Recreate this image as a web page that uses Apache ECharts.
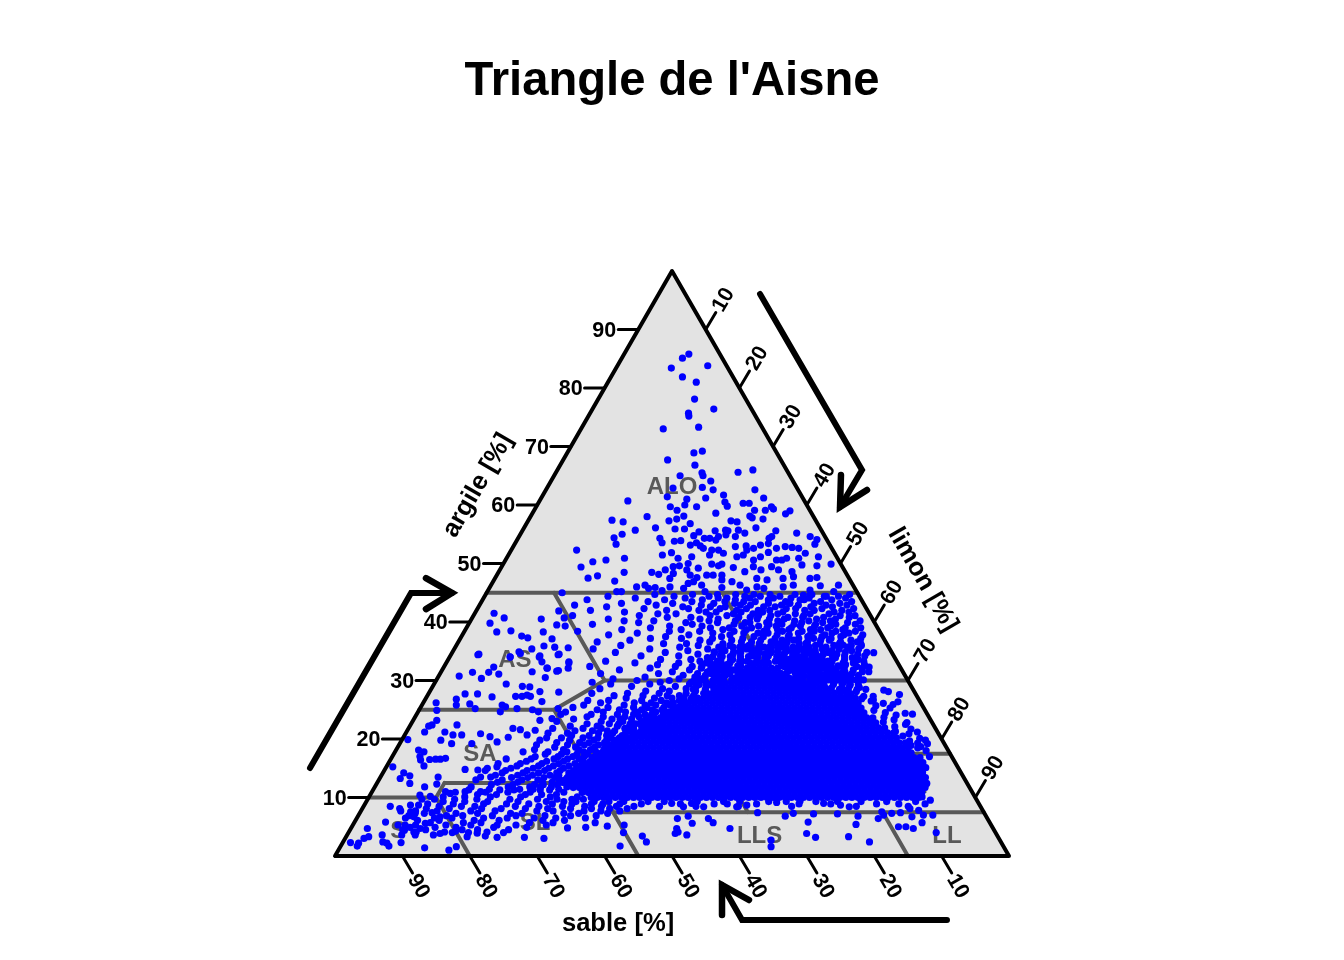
<!DOCTYPE html>
<html><head><meta charset="utf-8">
<style>html,body{margin:0;padding:0;background:#fff}#c{width:1344px;height:960px}</style>
<script src="https://cdn.jsdelivr.net/npm/echarts@6/dist/echarts.min.js"></script>
</head><body><div id="c"></div>
<script>
const FONT='"Liberation Sans",Arial,sans-serif';
const tickValues=[10,20,30,40,50,60,70,80,90];
/* isolated samples, [sand, clay] */
const topPoints=[[4.6,85.8],[5.9,85.1],[8.4,83.4],[2.8,83.8],[7.5,81.9],[5.9,81],[7.6,78.1],[5.6,76.4],[9.7,75.7],[9.9,75.2],[9.4,73.3],[14.8,73],[12.3,68.9],[10.9,69.2],[16.8,67.7],[13.2,66.8],[7.4,65.6],[5,66],[12.8,65.5],[12.9,65],[16.3,65],[12.2,64.1],[14,63],[18.4,62.9],[6.4,62.6],[12.6,62.6],[11.5,61.7],[20,61.4],[14.4,61.2],[17.3,61],[5.8,61.2],[26.2,60.7],[11.9,60.5],[9.3,60.3],[8.4,60.3],[18.1,60],[11.9,59.8],[16.5,59.7],[20.4,59.7],[5.4,59.7],[5.3,59.3],[8.2,59.1],[6.6,59.1],[19.7,59.1],[3,59],[3.9,58.5],[14.2,58.6],[19.2,58.1],[9.4,58.1],[24.7,58],[9.2,57.8],[20.5,57.6],[7.7,57.6],[30.2,57.4],[21.8,57.3],[28.7,57.1],[12.6,57.3],[11.8,57.1],[18.9,56.8],[9.5,56.1],[24.4,56.1],[27.6,55.7],[21.6,55.9],[20.2,55.9],[12.3,55.7],[6.8,55.6],[3.9,55.2],[18.3,55.4],[15.8,55.6],[14.2,55.7],[13.9,55.6],[11.6,55.2],[29.9,55],[31.4,54.4],[31.65,53.3],[38,52.3],[38.8,49.4],[38.7,47.5]];
const upperPoints=[[24.65,54.3],[24.7,53.55],[22.75,53.8],[21.75,53.9],[19.4,54.75],[20.7,53.15],[19.6,53.55],[18.05,54.3],[19.3,53],[17.25,54.3],[16.5,54],[15.8,54.6],[14.55,54.9],[13.3,54.6],[8.45,54.3],[7.9,54.6],[2.2,54.6],[1.45,54.1],[2.15,53.3],[14.15,52.9],[12.5,53],[11.6,52.6],[10.3,53.15],[9,53.4],[8.2,52.6],[6.75,52.9],[5.8,52.75],[4.9,52.6],[4.35,51.75],[2.7,51.15],[1.45,49.9],[3.7,49.6],[5.75,50.9],[5.85,49.75],[7.55,50.9],[8.4,50.6],[9.2,50.6],[10.5,49.45],[9.75,48.9],[9.75,51.9],[11.3,51.15],[12.6,50.6],[13.2,49.45],[12.35,48.9],[14.9,48.6],[16.25,49.3],[14.8,51.15],[13.7,51.45],[12.75,52.3],[16.5,51.75],[16.95,52.3],[17.95,52.3],[19.05,52.6],[18.7,51.45],[17.65,49.9],[18.3,49.6],[19.15,49.9],[21.5,49.2],[21.5,51.15],[22.6,50],[23.65,50.9],[24.1,49.6],[24.15,51.85],[25.7,51.45],[25.1,49.45],[26.55,48.9],[27.9,48.15],[28.75,48.5],[23.35,48.9],[23.3,48],[22.5,47.6],[23.35,46.9],[20.85,48],[19.9,48],[18.6,48],[19,47.2],[17.65,46.9],[16.75,46.3],[16.2,45.45],[14.4,46],[13.7,47.45],[12.3,47.2],[13.5,45.75],[9.8,47.45],[7.9,48.6],[8.1,47.75],[5.8,47.45],[4.7,47.6],[10.5,46],[8.85,46.3],[6.8,45.45],[4.9,46.2],[2.15,46.3],[3.4,45.2],[26.6,47.45],[25.65,48.3],[27.3,46],[25.4,45.75],[24.3,46.6],[32.25,46],[30.85,46.3],[30.6,45.75],[29.55,45.9],[28.8,45.35],[35.6,45.2],[34.9,45.2],[22.45,46.3],[22.5,45.2],[19.65,45.9],[8.2,44.6],[7.2,44.6],[4.9,44.4],[31.6,50.9],[34.5,50.6],[36.6,50.3],[32.85,48.5],[37.1,47.9],[35,47]];
const clayLoamPoints=[[55.65,41.5],[54.55,40.7],[57.1,39.8],[56.85,38.3],[54.65,38.5],[53.5,37.6],[52.75,37.3],[49.15,40.5],[49.95,38.3],[49.25,37.1],[47.35,39.5],[45.65,40.7],[45.85,41.9],[43.8,45],[51.05,35.9],[49.55,35.7],[47.6,35.6],[49.7,34.4],[53.1,35.4],[55.25,34.9],[57,34],[61.6,34.4],[52.7,34],[52.7,33.2],[52.45,32.1],[48.8,33],[49.35,32.1],[51.3,31.6],[61.4,34.5],[57,34.05],[55.2,34.6],[52.5,34.2],[49.5,34.5],[48.7,33.2],[55,31.5],[52.5,32.1],[51,31.7],[60.3,32.3],[61.5,31.4],[60.15,31.1],[63.9,31.4],[66.2,30.75],[63.1,30.35],[59.9,29.4],[57.7,29],[56.65,28.9],[53.55,30.5],[66.85,27.7],[65,27.7],[63.1,27.2],[68.6,26.8],[71.9,26.2],[67,26],[66.6,25.2],[69.1,25.8],[72.45,24.9],[59.55,27.3],[58.6,27.3],[57.75,27.5],[57.35,27.3],[55.55,28.1],[52.8,28],[56.1,26.4],[62.3,25.8],[61.95,25.5],[63.15,24.65],[60.4,25.2],[58.2,25],[57.5,24.65],[58,23.2],[56.05,23.5],[54.3,25.2]];
const sandyPoints=[[73.3,23.2],[74.4,22.4],[75,22.2],[76.1,21.2],[73.1,21.2],[70.7,22.4],[72.15,20.7],[70.85,20.7],[74.4,19.8],[73.1,19.2],[79.25,19.9],[67.95,20.9],[66.8,20.4],[66.2,19.5],[70.1,19.2],[64.15,20.3],[62.7,21.8],[61.7,21.6],[61.15,20.7],[59.55,21.5],[78.55,18.1],[77.9,17.8],[78.9,17],[79.1,16.4],[77.7,16.5],[76.8,16.55],[76.1,16.55],[75.25,16.7],[79.1,15.4],[83.8,15.25],[82.7,14.2],[82.05,13.7],[83.7,13.25],[82.7,12.4],[77.95,13.5],[80.8,11.8],[78.75,12.3],[73.3,14.8],[71.45,14.7],[69.9,15],[68.35,15.25],[71.65,13.5],[70.15,13.5],[72.9,11],[75.2,11],[77.55,10.7],[78.1,11],[82.2,10.4],[80.75,10.2],[82.25,9.7],[83.25,8.7],[84.45,8.7],[87.55,8.5],[86.35,8.1],[86.4,7.7],[85,7.55],[84.45,7.3],[84.95,6.7],[81.9,7.4],[81.05,6.7],[89.6,5.8],[86.95,5.3],[92.85,4.7],[94.2,3],[93.35,3.3],[96.55,2.3],[95.4,2.2],[95.85,1.7],[91.2,3.6],[91.2,2.2],[91.15,1.7],[91.7,2.4],[88.3,3.6],[87.5,4.4],[89.05,2.3],[86,1.4],[82.6,1],[81.2,1.6],[76,3.4],[74.35,3.2],[70.3,3.2],[67.5,3],[73,4],[76.95,3.9],[78.75,3.3],[78.2,4],[80.6,4],[80,4.25],[83.6,3.6],[82.5,3.85],[83.8,5.6],[86.25,4.1],[86.3,3.6],[85,4.7],[60.35,4.9],[58.55,5.7],[57.05,5.1],[54.45,5.3],[55.2,4],[56.85,1.7],[52.7,3.4],[52.6,2.4],[63.1,4.8]];
const siltyBottomPoints=[[46,6.4],[44.2,6.8],[44.2,5.6],[46.95,4.7],[47.05,4.1],[46,3.6],[47.6,3.85],[41.4,6.4],[41.05,5.7],[39.05,4.7],[33.95,2.7],[34.5,1.6],[33.6,7.4],[29.8,6.8],[28.35,7.3],[26.9,5.8],[25.4,7.2],[28.1,3.85],[27.1,3.2],[21.85,7.2],[20,5.4],[19,6.8],[22.15,3.3],[19.5,2.4],[16.2,6.4],[15.1,7.55],[15.1,7],[13.9,5],[12.8,5],[11.85,4.7],[10.05,5.7],[8.8,4],[7.8,7],[9.2,7],[13.75,7.3],[12.4,7.4],[10.65,8.1],[11.05,6.7],[9.5,7.8],[6.9,9.55],[7.85,10.1],[6,12.4],[41.1,8.4],[37.35,8.9],[36.2,8.4],[34.55,8.7],[29.9,9.15],[26.3,9.4],[23,9],[20.65,8.7],[19.5,8.4],[44.1,8.4],[45.55,9],[42.6,9]];
const rightEdgePoints=[[4.4,28.35],[3.85,28.1],[2.45,27.6],[3.3,26.35],[4.25,25.9],[6.8,26.65],[3.2,24.4],[2.2,24.25],[3.75,22.8],[3,21.2],[2.5,19.8],[2.5,19.2],[3.75,18.7],[3.3,18],[3.3,17],[5.7,14.4],[5.05,31.5],[6.55,30.1],[2.7,34.75],[4.6,32.3],[3.85,36.3],[6.6,36.05],[7.8,28.8],[8.6,28.1],[9.6,27.7],[9.1,29.1],[10.3,28.4],[6.5,27.3],[7.9,27.3],[8.4,26.9],[7.2,26.5],[5.6,26.1],[6.9,25.7],[5,25.3],[7.6,24.9],[6.1,24.5],[4.7,24.1],[6.7,23.7],[5.4,23.3],[7.2,22.9],[4.1,22.5],[5.9,22.1],[3.7,21.7],[6.2,21.3],[4.4,20.9],[5.5,20.5],[3.2,20.1],[4.9,19.7],[3.9,19.3],[5.1,18.9],[4.3,18.5]];
/* [clay, sands at that clay] : the medium-density cloud and the tail */
const cloudRows=[
[44.7,[1.3,6.9,9.4,13.1,15.5,18.2,20.9,24.6,30.2]],[44.4,[3.1,5.2,11.8,14.7,17,22.3,27.5,37.3]],[44.1,[2.2,7.6,10.3,12.9,16.4,19.8,21.1,26,33.4]],[43.8,[4.4,8.5,9.1,13.8,18.7,23.6,29.2,40.7]],[43.5,[1.6,6.2,11.4,15.9,17.6,20.4,25.3,31.8]],[43.2,[3.5,7.3,10.9,14.1,19.1,22.2,28.3,35.9]],[42.9,[2.6,5.7,9.8,12.3,16.9,18.4,24.2,30.9,43]],[42.6,[4.9,8.1,13.4,15.1,20.8,23,27.1,38.4]],[42.3,[1.9,6.6,10.5,11.9,17.8,21.7,26.4,33]],[42,[3.8,7.9,9.3,14.5,16.2,19.4,25,29.8,41.1]],[41.7,[2.9,5.1,12.7,15.7,18.9,22.6,24.1,36.2]],[41.4,[6,8.8,11,13.6,17.3,20.2,28.7,31.4]],[41.1,[2.3,4.5,9.9,14.8,16.6,21.3,23.8,34.3,44.2]],[40.8,[3.3,7.1,10.2,12.4,18,19.7,26.8,30.3]],[40.5,[5.5,8.3,13.1,15.3,17.1,22.9,25.6,39.2]],[40.2,[2,6.4,9.6,11.7,14.2,20.5,24.4,32.6,37]],[39.9,[4,7.7,10.8,16,18.5,19.2,23.3,28,35]],[39.6,[3,5.9,8.9,12.1,13.9,15.8,21,27.2,42]],[39.3,[6.8,9.2,11.3,14.9,17.5,20,25.9,30.7,46.2]],[39,[2.5,4.8,7.4,12.8,16.4,18.7,22,24.8,33.7]],
[38.7,[5.3,8.6,10.1,13.3,15,19.6,23.1,29.3,38.1]],[38.4,[3.6,6.5,9.7,11.5,14.4,17.2,21.6,26.7,31.2,44.8]],[38.1,[4.7,7.2,12.2,16.7,18.2,20.3,24.9,36.1]],[37.8,[2.8,5.6,8.4,10.6,13.7,15.5,22.5,28.6,40.5]],[37.5,[6.2,9,11.1,14,17.7,19.1,23.9,32.2]],[37.2,[3.4,7.8,10.4,12.6,16.1,20.9,25.4,30,34.6]],[36.9,[5,8.2,9.5,13.5,15.2,18.4,22.7,27.4,37.8]],[36.6,[4.2,6.7,11.6,14.6,17,19.9,21.4,26.1,42.8]],[36.3,[7,9.9,12,13,16.3,18.9,24.3,29.7,33.1]],[36,[3.9,5.4,8,10.7,15.6,20.6,23.4,28.1,39.6]],[35.7,[6.1,9.3,11.8,14.2,17.4,19.3,22.1,25.2,31]],[35.4,[4.6,7.5,10,12.9,16.6,18.1,21.2,27,35.6,44]],[35.1,[5.8,8.7,11.2,13.8,15.4,20.1,24.6,30.1]],[34.8,[3.7,6.9,9.4,12.5,14.7,17.9,22.4,26.3,33.6,41]],[34.5,[5.2,8.3,10.3,11.4,16.2,19,23.7,28.9]],[34.2,[4.3,7.3,9.1,13.2,15,18.6,21,25.7,31.9,37.5]],[33.9,[6.3,8.8,12.3,14.3,16.9,20.4,22.9,27.8]],[33.6,[5.6,7.6,10.9,11.9,15.8,17.6,19.4,24.2,30.4,34.9]],[33.3,[4.9,9.6,12.8,13.6,16.5,23,26.6,29.2,43.2]],[33,[6.6,8.1,10.5,14.8,17.3,24.9,28.4,32.5,39]],[32.7,[5.1,7.9,11,12.4,15.3,16.4,25.5,27.3,35.8]],[32.4,[6.4,9.2,10.2,13.9,17.1,23.6,26.2,30.8,33.3,46]],[32.1,[5.7,8.4,11.7,13.1,15.7,24.1,28,29.6,37.2]],[31.8,[7.2,9.8,12.2,14.5,16.8,25.1,27.6,31.5,41.9]],[31.5,[6,8.6,10.8,13.4,15.1,23.8,26.5,29,34.2]],[31.2,[7.7,9.4,11.5,12.7,16.1,25.8,28.6,30.6,36.4,45]],[30.9,[6.9,8.9,10.1,14,15.9,26.9,28.2,32.9]],[30.6,[8.2,10.6,12.1,13.3,15.2,27.7,29.8,31.3,38.7]],[30.3,[7.1,9,11.3,14.4,27.2,30.5,33.8,43.6]],[30,[8.5,10,12.6,13.7,28.5,31.7,35.4,40.2]],
[29.7,[9.7,11.1,12.9,28.9,30.1,32.3,36.9,47]],
[29.4,[29.8,32.7,38.6,44.4]],[29,[31.9,30.4,35,41.5]],[28.6,[33.6,29.5,37.1,46.4]],[28.2,[30.9,36.3,32.4,39.8]],[27.8,[34,31.4,38,42.7,48]],[27.4,[35.2,33.1,40.6,37,44.9]],[27,[32.8,36.5,34.7,39.1,43.3]],[26.6,[38.3,35.6,41.2,33.9,46.1,49.2]],[26.2,[36.7,40,34.9,42.5,37.7,47.5]],[25.8,[39.5,37.4,35.3,44.2,41.1,50.2]],[25.4,[36.4,41,38.5,43,46.8,52]],[25,[40.4,37.1,39,42,45.3,48.6]],[24.6,[38.2,42.8,40.1,44.6,47.9,53.5]],[24.2,[41.9,39.2,43.6,46,40.9,49.9,54.4]],[23.8,[41.4,38.9,45.1,43,48.3,50.7]],[23.4,[44.3,40.6,42.2,47.2,46,52.9]],[23,[39.9,43.1,45.8,41.5,49,55.6]],[22.6,[44.1,42.3,46.6,48,51.3,44.9]],[22.2,[41.7,47,45.2,43.4,50,54]],[21.8,[46.1,44.8,43,49.6,52.3,56.8]],[21.4,[45.7,47.8,43.8,48.9,51.1,53.7]],[21,[46.4,44.4,50.4,48.3,55,57.9]],[20.6,[47.1,45.5,49.4,52,46.8,54.6]],[20.2,[50.9,47.7,45.9,53.1,49,56.3,58.5]],[19.8,[48.4,46.7,51.7,49.8,55.3,59.7]],[19.4,[47.3,50.3,48.9,52.6,54,57.4]],[19,[51.4,49.6,47.9,53.5,56,60.6]],[18.6,[49,52.2,50.6,55,58.1]],[18.2,[48.5,53,51,54.7,57,61.3]],[17.8,[52.4,50.1,54.2,56.7,59.5,63.2]],[17.4,[51.6,53.8,55.4,57.7,60.1]],[17,[52.9,54.5,50.8,56.2,58.4,61.8]],[16.6,[55.5,53.3,57.2,59.2,62.6,66.3]],[16.2,[54,58,55.2,60.5,63.5]],[15.8,[56.5,55,58.9,61.4,64.6,67.9]],[15.4,[57.6,55.9,59.9,62.1,65.3]],[15,[56.6,58.6,60.8,63.1,66.4]],[14.6,[59.3,57.3,61.6,64.2,67.4,70.4]],[14.2,[58.2,60,62.7,65,68.1]],[13.8,[59.9,61.2,57.9,63.8,66,69.3]],[13.4,[60.7,58.8,62.3,64.7,67.1]],[13,[60.2,63.4,59.4,65.8,68.7,72.6]],[12.6,[61.5,62.9,60,66.6,69.6]],[12.2,[60.9,64.3,67.5,63,70.7]],[11.8,[62,59.7,63.6,65.2,68.4,73.9]],[11.4,[61.1,64.9,66.9,71.4]],[11.3,[62.5,63.9,67.8,69.9,74.5]],[10.9,[60.6,65.6,68.9,72.2,76.7]],[10.5,[61.9,64.1,66.5,70.8,73.6]],[10.1,[59,63,67.4,71.9,75.7,78.9]],[9.7,[58.3,60,62.2,65.1,69.2,74.1,77.4,80.4]],
[9.3,[9.2,13.5,17.3,20.8,24,28.4,31,35.3,37.7,41.6,46.5,48.9,52.5,54.7,56.9,59.6,61.4,64,68.2,72.7,76.1,79.3]],[8.9,[8,11.9,15.2,22,26.7,33,39.3,44.3,50.1,53.3,55.8,57.5,60.4,63.3,66.8,70.1,73.5,78,81.8]],[8.5,[10.7,18.4,28,35.9,42.2,47.6,51.4,54,56.2,58.7,62,65.5,69,75,77,80.3]],[8.1,[52.6,55.2,57.9,61,64.4,67.7,71.3,74.2,79,82.4]],[7.7,[53.9,56.7,59.2,63.8,66.2,72.4,76,81,84.2]],[7.3,[55.9,60.2,62.4,68.6,70.3,75.2,78.4,83.1]],[6.9,[57.8,61.6,65.4,69.7,73.2,77.6,80,85.6]],[6.5,[59.6,64,67.2,71.2,74.7,79.4,82,86.3]],[6.1,[62.9,66.1,72.6,76.3,81.5,84.7]],[5.7,[64.8,68.3,75.5,78.1,83]],[5.3,[66,70.5,73.3,77.2,80.9,85.4,88]],[4.9,[69.1,74,79.6,82.7,86.4]],[4.5,[72,76.6,78.9,84.3,87.7]],[4.1,[75.4,81.7,85.9]]
];
/* [clay, sands at that clay] : the crowded dome above the core */
const domeRows=[
[35.7,[12.1,13.4,15.2,16,17.7,18.5,20.4,21.3,23.1,24.6]],
[34.9,[11.8,12.9,14.1,15.7,16.9,18.2,19.6,20.7,22.5,23.4,25.2,26.3]],
[34.1,[10.9,12.2,13.7,14.6,16.3,17.4,19,20.2,21.6,22.8,24.3,25.5,26.9]],
[33.3,[10.2,11.5,13,14.2,15.4,16.8,18,19.3,20.8,22.2,23.3,24.7,26.1,27.7]],
[32.5,[9.1,10.4,12,13.2,14.6,15.9,17.3,24,25.4,26.6,28,29.3]],
[31.7,[8.7,9.9,11.2,12.8,14,15.3,16.7,25.9,27.1,28.5]],
[30.9,[8.1,9.5,10.8,12.3,13.6,15,26.6,27.9,29.6]],
[30.1,[7.6,9,10.5,11.7,13.2,14.5,15.8,26.1,27.5,28.8,30.7]],
[29.3,[7.7,8.9,10.1,11.4,12.8,28.2,29.7,31.3]],
[28.5,[7,8.3,9.6,10.9,29.4,30.8,32.6]]
];
/* [clay, sands at that clay] : the saturated core, where single samples cannot be told apart */
const coreRows=[
[10,[8.4,9.3,10.2,11.1,12,12.9,13.8,14.7,15.6,16.5,17.4,18.3,19.2,20.1,21,21.9,22.8,23.7,24.6,25.5,26.4,27.3,28.2,29.1,30,30.9,31.8,32.7,33.6,34.5,35.4,36.3,37.2,38.1,39,39.9,40.8,41.7,42.6,43.5,44.4,45.3,46.2,47.1,48,48.9,49.8,50.7,51.6,52.5,53.4,54.3,55.2,56.1,57]],
[10.85,[7.5,8.4,9.3,10.2,11.1,12,12.9,13.8,14.7,15.6,16.5,17.4,18.3,19.2,20.1,21,21.9,22.8,23.7,24.6,25.5,26.4,27.3,28.2,29.1,30,30.9,31.8,32.7,33.6,34.5,35.4,36.3,37.2,38.1,39,39.9,40.8,41.7,42.6,43.5,44.4,45.3,46.2,47.1,48,48.9,49.8,50.7,51.6,52.5,53.4,54.3,55.2,56.1,57,57.9]],
[11.7,[6.6,7.5,8.4,9.3,10.2,11.1,12,12.9,13.8,14.7,15.6,16.5,17.4,18.3,19.2,20.1,21,21.9,22.8,23.7,24.6,25.5,26.4,27.3,28.2,29.1,30,30.9,31.8,32.7,33.6,34.5,35.4,36.3,37.2,38.1,39,39.9,40.8,41.7,42.6,43.5,44.4,45.3,46.2,47.1,48,48.9,49.8,50.7,51.6,52.5,53.4,54.3,55.2,56.1,57,57.9,58.8]],
[12.55,[6.6,7.5,8.4,9.3,10.2,11.1,12,12.9,13.8,14.7,15.6,16.5,17.4,18.3,19.2,20.1,21,21.9,22.8,23.7,24.6,25.5,26.4,27.3,28.2,29.1,30,30.9,31.8,32.7,33.6,34.5,35.4,36.3,37.2,38.1,39,39.9,40.8,41.7,42.6,43.5,44.4,45.3,46.2,47.1,48,48.9,49.8,50.7,51.6,52.5,53.4,54.3,55.2,56.1,57,57.9,58.8,59.7]],
[13.4,[5.7,6.6,7.5,8.4,9.3,10.2,11.1,12,12.9,13.8,14.7,15.6,16.5,17.4,18.3,19.2,20.1,21,21.9,22.8,23.7,24.6,25.5,26.4,27.3,28.2,29.1,30,30.9,31.8,32.7,33.6,34.5,35.4,36.3,37.2,38.1,39,39.9,40.8,41.7,42.6,43.5,44.4,45.3,46.2,47.1,48,48.9,49.8,50.7,51.6,52.5,53.4,54.3,55.2,56.1,57,57.9,58.8]],
[14.25,[5.7,6.6,7.5,8.4,9.3,10.2,11.1,12,12.9,13.8,14.7,15.6,16.5,17.4,18.3,19.2,20.1,21,21.9,22.8,23.7,24.6,25.5,26.4,27.3,28.2,29.1,30,30.9,31.8,32.7,33.6,34.5,35.4,36.3,37.2,38.1,39,39.9,40.8,41.7,42.6,43.5,44.4,45.3,46.2,47.1,48,48.9,49.8,50.7,51.6,52.5,53.4,54.3,55.2,56.1,57]],
[15.1,[4.8,5.7,6.6,7.5,8.4,9.3,10.2,11.1,12,12.9,13.8,14.7,15.6,16.5,17.4,18.3,19.2,20.1,21,21.9,22.8,23.7,24.6,25.5,26.4,27.3,28.2,29.1,30,30.9,31.8,32.7,33.6,34.5,35.4,36.3,37.2,38.1,39,39.9,40.8,41.7,42.6,43.5,44.4,45.3,46.2,47.1,48,48.9,49.8,50.7,51.6,52.5,53.4,54.3,55.2,56.1]],
[15.95,[4.8,5.7,6.6,7.5,8.4,9.3,10.2,11.1,12,12.9,13.8,14.7,15.6,16.5,17.4,18.3,19.2,20.1,21,21.9,22.8,23.7,24.6,25.5,26.4,27.3,28.2,29.1,30,30.9,31.8,32.7,33.6,34.5,35.4,36.3,37.2,38.1,39,39.9,40.8,41.7,42.6,43.5,44.4,45.3,46.2,47.1,48,48.9,49.8,50.7,51.6,52.5,53.4,54.3]],
[16.8,[4.8,5.7,6.6,7.5,8.4,9.3,10.2,11.1,12,12.9,13.8,14.7,15.6,16.5,17.4,18.3,19.2,20.1,21,21.9,22.8,23.7,24.6,25.5,26.4,27.3,28.2,29.1,30,30.9,31.8,32.7,33.6,34.5,35.4,36.3,37.2,38.1,39,39.9,40.8,41.7,42.6,43.5,44.4,45.3,46.2,47.1,48,48.9,49.8,50.7,51.6,52.5,53.4]],
[17.65,[5.7,6.6,7.5,8.4,9.3,10.2,11.1,12,12.9,13.8,14.7,15.6,16.5,17.4,18.3,19.2,20.1,21,21.9,22.8,23.7,24.6,25.5,26.4,27.3,28.2,29.1,30,30.9,31.8,32.7,33.6,34.5,35.4,36.3,37.2,38.1,39,39.9,40.8,41.7,42.6,43.5,44.4,45.3,46.2,47.1,48,48.9,49.8,50.7,51.6]],
[18.5,[5.7,6.6,7.5,8.4,9.3,10.2,11.1,12,12.9,13.8,14.7,15.6,16.5,17.4,18.3,19.2,20.1,21,21.9,22.8,23.7,24.6,25.5,26.4,27.3,28.2,29.1,30,30.9,31.8,32.7,33.6,34.5,35.4,36.3,37.2,38.1,39,39.9,40.8,41.7,42.6,43.5,44.4,45.3,46.2,47.1,48,48.9,49.8]],
[19.35,[5.7,6.6,7.5,8.4,9.3,10.2,11.1,12,12.9,13.8,14.7,15.6,16.5,17.4,18.3,19.2,20.1,21,21.9,22.8,23.7,24.6,25.5,26.4,27.3,28.2,29.1,30,30.9,31.8,32.7,33.6,34.5,35.4,36.3,37.2,38.1,39,39.9,40.8,41.7,42.6,43.5,44.4,45.3,46.2,47.1,48]],
[20.2,[6.6,7.5,8.4,9.3,10.2,11.1,12,12.9,13.8,14.7,15.6,16.5,17.4,18.3,19.2,20.1,21,21.9,22.8,23.7,24.6,25.5,26.4,27.3,28.2,29.1,30,30.9,31.8,32.7,33.6,34.5,35.4,36.3,37.2,38.1,39,39.9,40.8,41.7,42.6,43.5,44.4,45.3,46.2,47.1]],
[21.05,[6.6,7.5,8.4,9.3,10.2,11.1,12,12.9,13.8,14.7,15.6,16.5,17.4,18.3,19.2,20.1,21,21.9,22.8,23.7,24.6,25.5,26.4,27.3,28.2,29.1,30,30.9,31.8,32.7,33.6,34.5,35.4,36.3,37.2,38.1,39,39.9,40.8,41.7,42.6,43.5,44.4,45.3]],
[21.9,[7.5,8.4,9.3,10.2,11.1,12,12.9,13.8,14.7,15.6,16.5,17.4,18.3,19.2,20.1,21,21.9,22.8,23.7,24.6,25.5,26.4,27.3,28.2,29.1,30,30.9,31.8,32.7,33.6,34.5,35.4,36.3,37.2,38.1,39,39.9,40.8,41.7,42.6,43.5]],
[22.75,[8.4,9.3,10.2,11.1,12,12.9,13.8,14.7,15.6,16.5,17.4,18.3,19.2,20.1,21,21.9,22.8,23.7,24.6,25.5,26.4,27.3,28.2,29.1,30,30.9,31.8,32.7,33.6,34.5,35.4,36.3,37.2,38.1,39,39.9,40.8,41.7,42.6]],
[23.6,[8.4,9.3,10.2,11.1,12,12.9,13.8,14.7,15.6,16.5,17.4,18.3,19.2,20.1,21,21.9,22.8,23.7,24.6,25.5,26.4,27.3,28.2,29.1,30,30.9,31.8,32.7,33.6,34.5,35.4,36.3,37.2,38.1,39,39.9,40.8]],
[24.45,[9.3,10.2,11.1,12,12.9,13.8,14.7,15.6,16.5,17.4,18.3,19.2,20.1,21,21.9,22.8,23.7,24.6,25.5,26.4,27.3,28.2,29.1,30,30.9,31.8,32.7,33.6,34.5,35.4,36.3,37.2,38.1,39]],
[25.3,[9.3,10.2,11.1,12,12.9,13.8,14.7,15.6,16.5,17.4,18.3,19.2,20.1,21,21.9,22.8,23.7,24.6,25.5,26.4,27.3,28.2,29.1,30,30.9,31.8,32.7,33.6,34.5,35.4,36.3,37.2]],
[26.15,[9.3,10.2,11.1,12,12.9,13.8,14.7,15.6,16.5,17.4,18.3,19.2,20.1,21,21.9,22.8,23.7,24.6,25.5,26.4,27.3,28.2,29.1,30,30.9,31.8,32.7,33.6,34.5,35.4]],
[27,[9.3,10.2,11.1,12,12.9,13.8,14.7,15.6,16.5,17.4,18.3,19.2,20.1,21,21.9,22.8,23.7,24.6,25.5,26.4,27.3,28.2,29.1,30,30.9,31.8,32.7,33.6]],
[27.85,[10.2,11.1,12,12.9,13.8,14.7,15.6,16.5,17.4,18.3,19.2,20.1,21,21.9,22.8,23.7,24.6,25.5,26.4,27.3,28.2,29.1,30,30.9]],
[28.7,[12,12.9,13.8,14.7,15.6,16.5,17.4,18.3,19.2,20.1,21,21.9,22.8,23.7,24.6,25.5,26.4,27.3,28.2,29.1]],
[29.55,[13.8,14.7,15.6,16.5,17.4,18.3,19.2,20.1,21,21.9,22.8,23.7,24.6,25.5,26.4,27.3]],
[30.4,[16.5,17.4,18.3,19.2,20.1,21,21.9,22.8,23.7,24.6,25.5]],
[31.25,[17.4,18.3,19.2,20.1,21,21.9,22.8,23.7,24.6]],
[32.1,[18.3,19.2,20.1,21,21.9,22.8]],
[33,[19.2,20.1,21,21.9]]
];
/* texture-class boundaries, each a list of [sand, clay] */
const zoneLines=[
[[55,45],[0,45]],[[45,30],[0,30]],[[75,25],[55,25]],
[[45,45],[45,30],[55,25],[55,0]],
[[90,10],[80,10]],[[77.5,12.5],[35,12.5]],[[77.5,12.5],[80,10],[80,0]],
[[55,7.5],[0,7.5]],[[15,7.5],[15,0]],[[55,17.5],[0,17.5]],
[[35,12.5],[35,7.5]],[[20,45],[20,30]]
];
const zoneLabels=[['ALO',18.4,63.2],['AS',56.45,33.7],['SA',69.7,17.6],['SL',67.4,5.8],['S',88.4,4.4],['LLS',35.2,3.6],['LL',7.4,3.6],['LM',8.55,12.1]];
/* annotation arrows in axis units [x, y] */
const arrowClay=[[-3.71,15.04],[11.28,44.96],[17.36,44.96]];
const arrowClayHead=[[13.5,47.5],[17.36,44.96],[13.5,42.2]];
const arrowSilt=[[63.06,96.07],[78.19,65.98],[74.93,59.66]];
const arrowSiltHead=[[75.07,65.13],[74.93,59.66],[78.93,62.56]];
const arrowSand=[[90.8,-10.94],[60.39,-10.94],[57.42,-4.96]];
const arrowSandHead=[[57.42,-10.09],[57.42,-4.96],[61.42,-7.52]];

const toXY=(sand,clay)=>[100-sand-clay/2,clay];
const points=[];
[topPoints,upperPoints,clayLoamPoints,sandyPoints,siltyBottomPoints,rightEdgePoints].forEach(l=>l.forEach(p=>points.push(toXY(p[0],p[1]))));
[cloudRows,domeRows,coreRows].forEach(rows=>rows.forEach(r=>r[1].forEach(s=>points.push(toXY(s,r[0])))));

const corners=[[0,0],[100,0],[50,100]];
const poly=(stroke)=>({type:'custom',silent:true,z:stroke?6:1,clip:false,data:[0],
 renderItem:(p,api)=>({type:'polygon',shape:{points:corners.map(c=>api.coord(c))},
  style:stroke?{fill:'none',stroke:'#000',lineWidth:4,lineJoin:'round'}:{fill:'#e3e3e3'}})});
const line=(data,color,width,z)=>({type:'line',data,symbol:'none',silent:true,clip:false,z,animation:false,
 lineStyle:{color,width,cap:'round',join:'miter'}});
/* [x, y, text, rotation in degrees, size, colour] */
const texts=(items,z)=>({type:'custom',silent:true,clip:false,z,animation:false,data:items.map((t,i)=>[t[0],t[1],i]),
 renderItem:(p,api)=>{const t=items[p.dataIndex],c=api.coord([t[0],t[1]]);
  return {type:'text',x:c[0],y:c[1]+1.5,rotation:t[3]*Math.PI/180,silent:true,
   style:{x:0,y:0,text:t[2],fill:t[5],font:'bold '+t[4]+'px '+FONT,align:'center',verticalAlign:'middle'}};}});

const ticks=[],tickTexts=[];
tickValues.forEach(v=>{
 ticks.push([[v/2,v],[v/2-2.97,v]]);
 tickTexts.push([v/2-5.04,v,String(v),0,21.5,'#000']);
 const sx=50+v/2,sy=100-v;
 ticks.push([[sx,sy],[sx+1.5,sy+2.9]]);
 tickTexts.push([sx+2.67,sy+5.3,String(v),60,21.5,'#000']);
 const bx=100-v;
 ticks.push([[bx,0],[bx+1.5,-2.9]]);
 tickTexts.push([bx+2.37,-4.96,String(v),-60,21.5,'#000']);
});
tickTexts.push([21.2,63.6,'argile [%]',60,25.6,'#000']);
tickTexts.push([87.2,47.5,'limon [%]',-60,25.6,'#000']);
tickTexts.push([42,-11.3,'sable [%]',0,25.6,'#000']);

const series=[poly(false)];
zoneLines.forEach(l=>series.push(line(l.map(p=>toXY(p[0],p[1])),'#595959',4,2)));
series.push(texts(zoneLabels.map(l=>{const q=toXY(l[1],l[2]);return [q[0],q[1],l[0],0,24,'#595959'];}),3));
series.push({type:'scatter',symbol:'circle',symbolSize:7.2,silent:true,clip:false,z:4,animation:false,large:false,
 itemStyle:{color:'#0000ff',opacity:1},data:points});
ticks.forEach(l=>series.push(line(l,'#000',3,5)));
series.push(poly(true));
[arrowClay,arrowSilt,arrowSand].forEach(a=>series.push(line(a,'#000',6,5)));
[arrowClayHead,arrowSiltHead,arrowSandHead].forEach(a=>series.push(line(a,'#000',6.5,5)));
series.push(texts(tickTexts,7));

const chart=echarts.init(document.getElementById('c'),null,{renderer:'canvas'});
chart.setOption({animation:false,backgroundColor:'#fff',
 title:{text:"Triangle de l'Aisne",left:'center',top:53,textStyle:{fontFamily:FONT,fontWeight:'bold',fontSize:47.2,color:'#000'}},
 grid:{left:0,top:0,width:1344,height:960},
 xAxis:{type:'value',min:-335/6.74,max:1009/6.74,show:false},
 yAxis:{type:'value',min:-104/5.85,max:856/5.85,show:false},
 series});
</script></body></html>
